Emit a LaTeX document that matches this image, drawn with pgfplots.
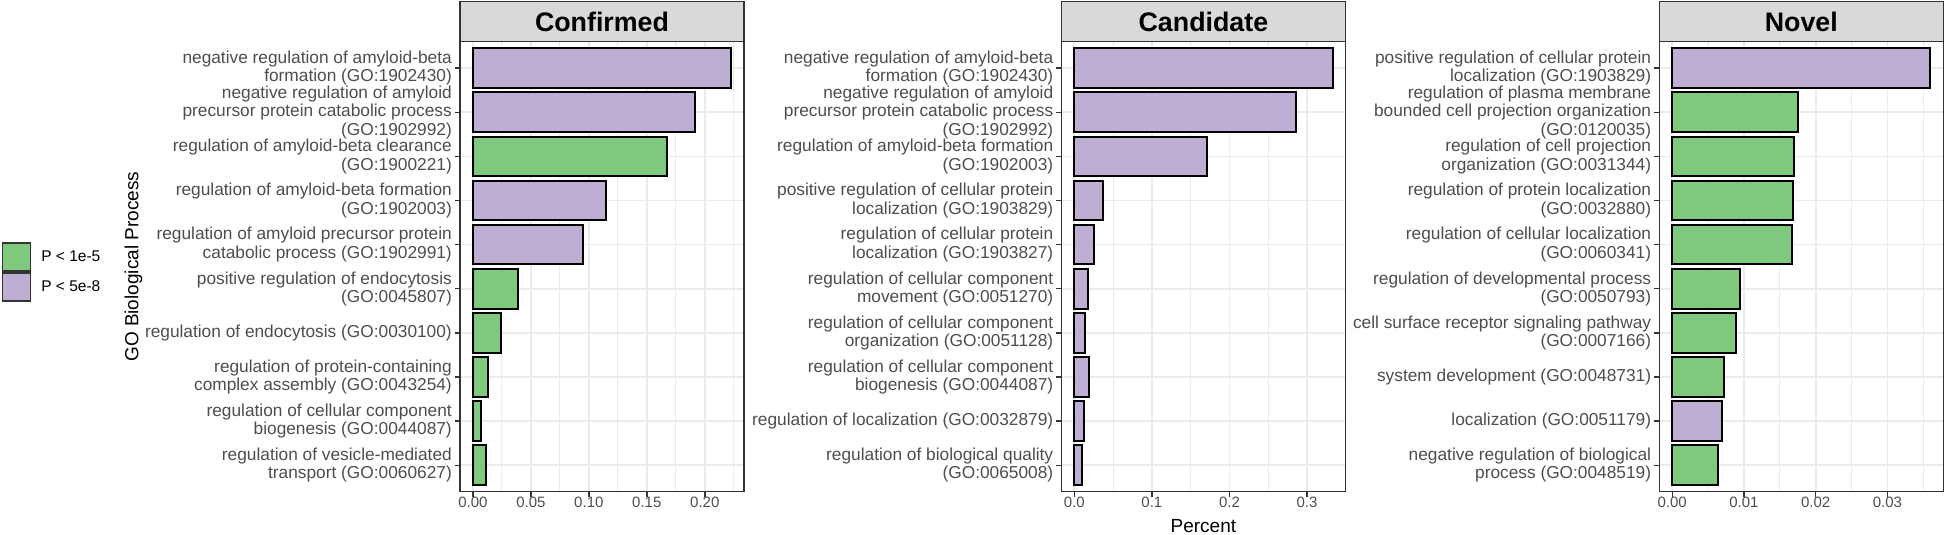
\documentclass[border=0pt]{standalone}
\usepackage{pgfplots}
\pgfplotsset{compat=1.18}
\usepackage{fontspec}
\setmainfont{Liberation Sans}

\definecolor{barG}{HTML}{7FC97F}
\definecolor{barP}{HTML}{BEAED4}
\definecolor{stripbg}{HTML}{D9D9D9}
\definecolor{frame}{HTML}{333333}
\definecolor{ticktxt}{HTML}{4D4D4D}
\definecolor{gridc}{HTML}{EBEBEB}

\pgfplotsset{
  panel/.style={
    width=284pt, height=450pt, scale only axis,
    xbar, bar width=0.9, bar shift=0pt,
    y dir=reverse, ymin=0.4, ymax=10.6, ytick={1,...,10},
    scaled x ticks=false,
    tick pos=left, tick align=outside,
    major tick length=5pt, minor tick length=0pt,
    tick style={draw=frame, line width=1.4pt},
    axis line style={draw=frame, line width=1.4pt},
    xmajorgrids, xminorgrids, ymajorgrids,
    major grid style={draw=gridc, line width=1.7pt},
    minor grid style={draw=gridc, line width=0.85pt},
    yticklabel style={font=\fontsize{17.3}{18.3}\selectfont, text=ticktxt, align=right, inner sep=0pt, xshift=-3pt},
    xticklabel style={font=\fontsize{15}{18}\selectfont, text=ticktxt, inner sep=0pt},
  },
  gbar/.style={fill=barG, draw=black, line width=2pt},
  pbar/.style={fill=barP, draw=black, line width=2pt},
  keysq/.style={legend image code/.code={\draw[##1, draw=frame, line width=1.4pt] (0pt,-14pt) rectangle (28pt,14pt);}},
}

\newcommand{\strip}[2]{%
  \draw[fill=stripbg, draw=frame, line width=1.4pt] (#1.north west) rectangle ([yshift=40pt]#1.north east);
  \node[font=\fontsize{26.8}{30}\selectfont\bfseries] at ([yshift=20pt]#1.north) {#2};}

\begin{document}
\begin{tikzpicture}
\useasboundingbox (0,0) rectangle (1946pt,535pt);

% Confirmed
\begin{axis}[panel, name=ax1, at={(460pt,43.3pt)}, anchor=south west,
  xmin=-0.0111, xmax=0.2338,
  xtick={0,0.05,0.10,0.15,0.20}, xticklabels={0.00,0.05,0.10,0.15,0.20},
  minor xtick={0.025,0.075,0.125,0.175,0.225},
  yticklabels={
    {negative regulation of amyloid-beta\\formation (GO:1902430)},
    {negative regulation of amyloid\\precursor protein catabolic process\\(GO:1902992)},
    {regulation of amyloid-beta clearance\\(GO:1900221)},
    {regulation of amyloid-beta formation\\(GO:1902003)},
    {regulation of amyloid precursor protein\\catabolic process (GO:1902991)},
    {positive regulation of endocytosis\\(GO:0045807)},
    {regulation of endocytosis (GO:0030100)},
    {regulation of protein-containing\\complex assembly (GO:0043254)},
    {regulation of cellular component\\biogenesis (GO:0044087)},
    {regulation of vesicle-mediated\\transport (GO:0060627)}},
  ylabel={GO Biological Process},
  ylabel style={at={(axis description cs:-1.1496,0.5)}, anchor=center, font=\fontsize{19}{22}\selectfont},
  legend style={at={(axis description cs:-1.6137,0.5549)}, anchor=north west,
    draw=none, fill=none, inner sep=0pt, row sep=0.6pt, column sep=10pt,
    nodes={inner sep=0pt}, font=\fontsize{15.5}{18}\selectfont},
  legend cell align=left,
]
\addplot[gbar, keysq] coordinates {(0.1670,3) (0.0389,6) (0.0242,7) (0.0132,8) (0.0074,9) (0.0113,10)};
\addlegendentry{P < 1e-5}
\addplot[pbar, keysq] coordinates {(0.2227,1) (0.1912,2) (0.1146,4) (0.0953,5)};
\addlegendentry{P < 5e-8}
\end{axis}
\strip{ax1}{Confirmed}

% Candidate
\begin{axis}[panel, name=ax2, at={(1061.4pt,43.3pt)}, anchor=south west,
  xmin=-0.0166, xmax=0.3494,
  xtick={0,0.1,0.2,0.3}, xticklabels={0.0,0.1,0.2,0.3},
  minor xtick={0.05,0.15,0.25},
  yticklabels={
    {negative regulation of amyloid-beta\\formation (GO:1902430)},
    {negative regulation of amyloid\\precursor protein catabolic process\\(GO:1902992)},
    {regulation of amyloid-beta formation\\(GO:1902003)},
    {positive regulation of cellular protein\\localization (GO:1903829)},
    {regulation of cellular protein\\localization (GO:1903827)},
    {regulation of cellular component\\movement (GO:0051270)},
    {regulation of cellular component\\organization (GO:0051128)},
    {regulation of cellular component\\biogenesis (GO:0044087)},
    {regulation of localization (GO:0032879)},
    {regulation of biological quality\\(GO:0065008)}},
  xlabel={Percent},
  xlabel style={at={(axis description cs:0.5,-0.0756)}, anchor=center, font=\fontsize{19}{22}\selectfont},
]
\addplot[pbar] coordinates {(0.3328,1) (0.2852,2) (0.1712,3) (0.0366,4) (0.0251,5)
  (0.0174,6) (0.0132,7) (0.0192,8) (0.0124,9) (0.0096,10)};
\end{axis}
\strip{ax2}{Candidate}

% Novel
\begin{axis}[panel, name=ax3, at={(1659.3pt,43.3pt)}, anchor=south west,
  xmin=-0.0018, xmax=0.0378,
  xtick={0,0.01,0.02,0.03}, xticklabels={0.00,0.01,0.02,0.03},
  minor xtick={0.005,0.015,0.025,0.035},
  yticklabels={
    {positive regulation of cellular protein\\localization (GO:1903829)},
    {regulation of plasma membrane\\bounded cell projection organization\\(GO:0120035)},
    {regulation of cell projection\\organization (GO:0031344)},
    {regulation of protein localization\\(GO:0032880)},
    {regulation of cellular localization\\(GO:0060341)},
    {regulation of developmental process\\(GO:0050793)},
    {cell surface receptor signaling pathway\\(GO:0007166)},
    {system development (GO:0048731)},
    {localization (GO:0051179)},
    {negative regulation of biological\\process (GO:0048519)}},
]
\addplot[gbar] coordinates {(0.01747,2) (0.01701,3) (0.01683,4) (0.01669,5)
  (0.00943,6) (0.00887,7) (0.00721,8) (0.00638,10)};
\addplot[pbar] coordinates {(0.0360,1) (0.00689,9)};
\end{axis}
\strip{ax3}{Novel}
\end{tikzpicture}
\end{document}
